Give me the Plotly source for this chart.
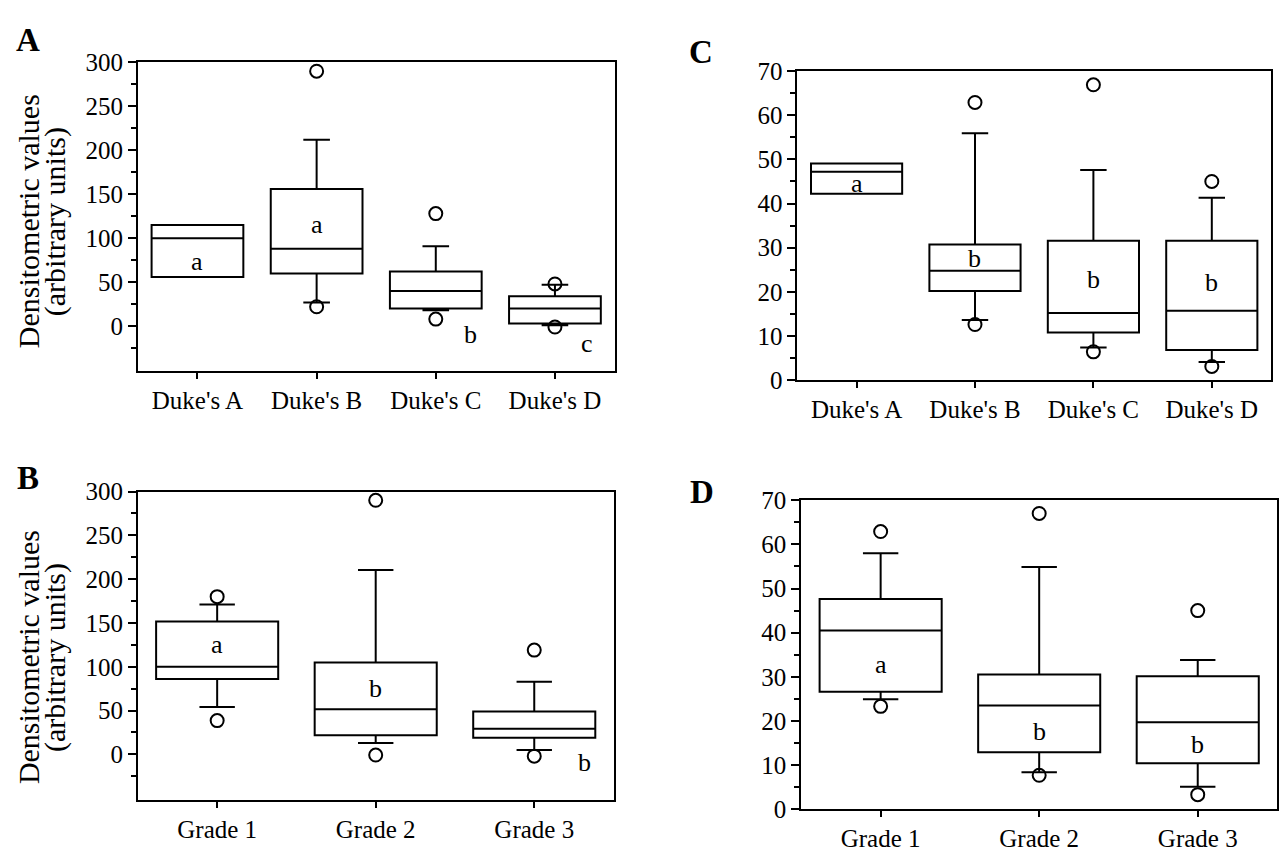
import plotly.graph_objects as go

W, H = 1279, 861

# ---------------- data ----------------
cats_duke = ["Duke's A", "Duke's B", "Duke's C", "Duke's D"]
cats_grade = ["Grade 1", "Grade 2", "Grade 3"]

# Panel A (Duke's stage, arbitrary units)
a_q1 = [56, 60, 20, 3]
a_med = [100, 88, 40, 20]
a_q3 = [115, 156, 62, 34]
a_lo = [56, 27, 18, 1]
a_hi = [115, 212, 91, 47]
a_out_x = ["Duke's B", "Duke's B", "Duke's C", "Duke's C", "Duke's D", "Duke's D"]
a_out_y = [290, 22, 128, 8, 48, -1]
a_letters = ["a", "a", "b", "c"]
a_letter_y = [74, 116, -9, -20]
a_letter_dx = [0, 0, 0.29, 0.27]

# Panel C
c_q1 = [42.2, 20.2, 10.8, 6.8]
c_med = [47.2, 24.8, 15.2, 15.7]
c_q3 = [49.1, 30.7, 31.6, 31.6]
c_lo = [42.2, 13.6, 7.4, 4.1]
c_hi = [49.1, 55.9, 47.6, 41.3]
c_out_x = ["Duke's B", "Duke's B", "Duke's C", "Duke's C", "Duke's D", "Duke's D"]
c_out_y = [62.9, 12.6, 66.9, 6.4, 45, 3.1]
c_letters = ["a", "b", "b", "b"]
c_letter_y = [44.6, 27.6, 22.9, 22.1]
c_letter_dx = [0, 0, 0, 0]

# Panel B (grade)
b_q1 = [86, 22, 19]
b_med = [100, 51.5, 29.4]
b_q3 = [151.6, 105, 49]
b_lo = [54, 13, 5]
b_hi = [171, 210.5, 83]
b_out_x = ["Grade 1", "Grade 1", "Grade 2", "Grade 2", "Grade 3", "Grade 3"]
b_out_y = [180, 38.6, 290, -0.7, 119, -2]
b_letters = ["a", "b", "b"]
b_letter_y = [125, 75, -9]
b_letter_dx = [0, 0, 0.32]

# Panel D
d_q1 = [26.6, 12.9, 10.4]
d_med = [40.5, 23.5, 19.7]
d_q3 = [47.6, 30.5, 30.1]
d_lo = [24.9, 8.4, 5.1]
d_hi = [58, 54.9, 33.8]
d_out_x = ["Grade 1", "Grade 1", "Grade 2", "Grade 2", "Grade 3", "Grade 3"]
d_out_y = [62.9, 23.3, 67, 7.7, 45, 3.3]
d_letters = ["a", "b", "b"]
d_letter_y = [32.8, 17.5, 14.6]
d_letter_dx = [0, 0, 0]

# ---------------- layout geometry (pixels) ----------------
FONT = "Liberation Serif"
panels = {
    # name: (left, right, top, bottom)
    "A": (138, 615, 51, 370),
    "C": (798, 1272, 60, 379),
    "B": (138, 614, 494, 812),
    "D": (802, 1278, 503, 822),
}


def xdom(p):
    l, r, t, b = panels[p]
    return [l / W, r / W]


def ydom(p):
    l, r, t, b = panels[p]
    return [1 - b / H, 1 - t / H]


fig = go.Figure()

specs = [
    ("A", "x", "y", cats_duke, a_q1, a_med, a_q3, a_lo, a_hi, a_out_x, a_out_y,
     a_letters, a_letter_y, a_letter_dx),
    ("C", "x2", "y2", cats_duke, c_q1, c_med, c_q3, c_lo, c_hi, c_out_x, c_out_y,
     c_letters, c_letter_y, c_letter_dx),
    ("B", "x3", "y3", cats_grade, b_q1, b_med, b_q3, b_lo, b_hi, b_out_x, b_out_y,
     b_letters, b_letter_y, b_letter_dx),
    ("D", "x4", "y4", cats_grade, d_q1, d_med, d_q3, d_lo, d_hi, d_out_x, d_out_y,
     d_letters, d_letter_y, d_letter_dx),
]

annotations = []
for name, xa, ya, cats, q1, med, q3, lo, hi, ox, oy, lets, ly, ldx in specs:
    fig.add_trace(go.Box(
        x=cats, q1=q1, median=med, q3=q3, lowerfence=lo, upperfence=hi,
        boxpoints=False, xaxis=xa, yaxis=ya, width=0.77, whiskerwidth=0.29,
        line=dict(color="black", width=2), fillcolor="rgba(255,255,255,0)",
        showlegend=False, hoverinfo="skip",
    ))
    fig.add_trace(go.Scatter(
        x=ox, y=oy, mode="markers", xaxis=xa, yaxis=ya,
        marker=dict(symbol="circle-open", size=13, color="black",
                    line=dict(color="black", width=2)),
        showlegend=False, hoverinfo="skip",
    ))
    for i, (t, yv, dx) in enumerate(zip(lets, ly, ldx)):
        annotations.append(dict(
            x=i + dx, y=yv, xref=xa, yref=ya, text=t, showarrow=False,
            font=dict(family=FONT, size=26, color="black"),
            xanchor="center", yanchor="middle",
        ))

axis_common = dict(
    showline=True, linecolor="black", linewidth=2, mirror=True,
    showgrid=False, zeroline=False, ticks="outside", tickcolor="black",
    tickfont=dict(family=FONT, size=25, color="black"),
)

layout = dict(
    width=W, height=H, margin=dict(l=0, r=0, t=0, b=0),
    paper_bgcolor="white", plot_bgcolor="white", showlegend=False,
)

axmap = {"A": ("xaxis", "yaxis", "y", "x"), "C": ("xaxis2", "yaxis2", "y2", "x2"),
         "B": ("xaxis3", "yaxis3", "y3", "x3"), "D": ("xaxis4", "yaxis4", "y4", "x4")}

for name, (xk, yk, yanc, xanc) in axmap.items():
    ncat = 4 if name in ("A", "C") else 3
    layout[xk] = dict(axis_common, domain=xdom(name), anchor=yanc,
                      range=[-0.5, ncat - 0.5], ticklen=6, tickwidth=2,
                      type="category")
    if name in ("A", "B"):
        layout[yk] = dict(axis_common, domain=ydom(name), anchor=xanc,
                          range=[-51.5, 300], tickvals=[0, 50, 100, 150, 200, 250, 300],
                          ticklen=8, tickwidth=2,
                          minor=dict(tickvals=[-25, 25, 75, 125, 175, 225, 275],
                                     ticklen=5, tickwidth=2, ticks="outside",
                                     tickcolor="black"))
    else:
        layout[yk] = dict(axis_common, domain=ydom(name), anchor=xanc,
                          range=[0, 70], tickvals=[0, 10, 20, 30, 40, 50, 60, 70],
                          ticklen=8, tickwidth=2,
                          minor=dict(tickvals=[5, 15, 25, 35, 45, 55, 65],
                                     ticklen=5, tickwidth=2, ticks="outside",
                                     tickcolor="black"))

# panel letters
for txt, px, py in [("A", 28, 28), ("C", 702, 40), ("B", 28, 480), ("D", 703, 494)]:
    annotations.append(dict(
        x=px / W, y=1 - py / H, xref="paper", yref="paper", text="<b>%s</b>" % txt,
        showarrow=False, font=dict(family=FONT, size=33, color="black"),
        xanchor="center", yanchor="middle",
    ))

# y-axis titles (two lines each) for panels A and B
for cy in (215, 665):
    for txt, px in [("Densitometric values", 28), ("(arbitrary units)", 55)]:
        annotations.append(dict(
            x=px / W, y=1 - cy / H, xref="paper", yref="paper", text=txt,
            textangle=-90, showarrow=False,
            font=dict(family=FONT, size=30, color="black"),
            xanchor="center", yanchor="middle",
        ))

layout["annotations"] = annotations
fig.update_layout(**layout)
fig.write_html("out.html")
